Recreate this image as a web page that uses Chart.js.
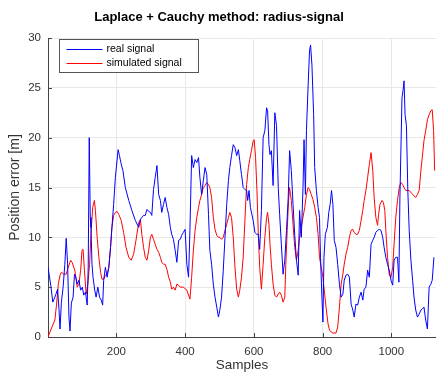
<!DOCTYPE html>
<html>
<head>
<meta charset="utf-8">
<script src="https://cdn.jsdelivr.net/npm/chart.js@4/dist/chart.umd.min.js"></script>
<style>
  html, body { margin: 0; padding: 0; background: #fff; }
  #wrap { width: 436px; height: 372px; }
</style>
</head>
<body>
<div id="wrap"><canvas id="chart" width="436" height="372"></canvas></div>
<script>
const FONT = '"Liberation Sans", Arial, sans-serif';
const titleText = 'Laplace + Cauchy method: radius-signal';
const seriesNames = ['real signal', 'simulated signal'];
const xTicks = [200, 400, 600, 800, 1000];
const yTicks = [0, 5, 10, 15, 20, 25, 30];

// real signal (blue)
const realSamples = [1, 9, 15, 20, 24, 29, 33, 36, 40, 45, 50, 54, 58, 62, 65, 69, 74, 78, 82, 86, 91, 96, 101, 105, 110, 115, 118, 121, 124, 126, 129, 132, 137, 141, 146, 151, 156, 160, 163, 168, 173, 178, 183, 187, 192, 197, 205, 209, 213, 219, 226, 236, 245, 255, 265, 270, 274, 279, 284, 289, 294, 299, 303, 308, 313, 318, 323, 328, 332, 337, 342, 347, 352, 357, 361, 366, 371, 376, 381, 386, 390, 395, 400, 405, 410, 414, 419, 424, 429, 434, 439, 443, 448, 453, 458, 463, 468, 472, 477, 482, 487, 492, 497, 501, 506, 511, 516, 521, 526, 530, 535, 540, 545, 550, 555, 559, 564, 569, 574, 579, 582, 586, 590, 598, 603, 608, 613, 617, 622, 627, 632, 637, 640, 644, 647, 651, 656, 661, 666, 671, 675, 680, 685, 690, 695, 700, 704, 709, 714, 719, 724, 729, 733, 738, 743, 746, 750, 753, 758, 762, 765, 769, 774, 777, 782, 787, 791, 794, 798, 801, 804, 808, 814, 818, 822, 826, 830, 834, 839, 844, 849, 854, 859, 863, 868, 873, 878, 883, 888, 892, 897, 902, 907, 912, 917, 921, 926, 931, 936, 941, 946, 950, 955, 960, 965, 970, 975, 979, 984, 989, 994, 999, 1004, 1008, 1013, 1018, 1022, 1025, 1031, 1034, 1037, 1040, 1044, 1048, 1052, 1057, 1062, 1066, 1071, 1076, 1081, 1086, 1090, 1095, 1100, 1105, 1110, 1115, 1119, 1124];
const realValues = [7.0, 5.2, 3.5, 3.9, 4.3, 4.8, 2.8, 0.8, 3.5, 5.0, 7.3, 9.9, 7.4, 2.0, 0.6, 3.4, 4.0, 6.3, 6.0, 5.3, 5.7, 4.7, 5.0, 4.2, 4.5, 3.2, 7.0, 20.0, 12.0, 11.0, 7.3, 6.0, 4.7, 4.0, 5.0, 4.0, 3.7, 3.2, 5.7, 7.0, 6.0, 7.0, 9.0, 11.0, 13.3, 16.0, 18.8, 18.2, 17.5, 16.7, 15.0, 13.7, 12.7, 11.7, 11.0, 11.8, 12.0, 12.2, 12.2, 12.8, 12.6, 12.5, 12.2, 14.8, 16.0, 17.2, 14.3, 13.7, 12.5, 13.3, 14.0, 13.0, 12.3, 11.0, 10.3, 9.8, 8.7, 7.5, 9.7, 9.8, 10.2, 10.5, 10.8, 7.3, 6.0, 10.7, 18.2, 17.0, 17.8, 17.5, 18.0, 16.0, 14.3, 15.7, 17.0, 16.3, 12.3, 8.7, 7.3, 5.3, 4.0, 3.0, 2.0, 2.7, 4.0, 6.7, 10.0, 13.3, 15.7, 17.0, 18.2, 19.3, 19.0, 18.2, 18.8, 17.7, 16.3, 15.0, 14.8, 14.7, 13.7, 14.7, 13.0, 11.7, 10.5, 10.3, 10.3, 8.8, 12.7, 20.0, 20.7, 23.0, 22.7, 19.3, 18.3, 18.7, 15.2, 22.5, 21.2, 15.0, 12.3, 9.3, 6.3, 7.7, 10.7, 14.0, 18.7, 16.7, 13.3, 10.2, 7.7, 6.2, 12.7, 10.0, 15.0, 19.8, 14.3, 20.7, 25.3, 28.7, 29.3, 27.3, 22.3, 17.0, 14.7, 13.0, 12.0, 8.0, 4.0, 1.5, 8.0, 10.3, 11.0, 12.5, 13.3, 14.7, 13.3, 9.7, 9.0, 7.3, 5.3, 4.0, 4.3, 5.7, 6.2, 6.3, 6.0, 3.3, 2.7, 2.0, 3.3, 3.2, 4.0, 4.5, 3.7, 4.8, 5.0, 6.7, 6.0, 9.3, 9.7, 10.0, 10.5, 10.7, 10.8, 10.7, 10.0, 9.0, 8.0, 7.3, 6.7, 5.7, 5.2, 7.7, 8.0, 8.0, 5.5, 14.0, 24.0, 24.7, 25.7, 22.3, 21.2, 14.7, 10.7, 7.7, 5.7, 4.0, 2.7, 2.0, 2.3, 2.7, 2.8, 3.0, 1.7, 0.8, 5.0, 5.3, 5.7, 8.0];

// simulated signal (red)
const simSamples = [1, 9, 15, 21, 26, 31, 36, 40, 47, 54, 60, 67, 71, 79, 86, 91, 96, 100, 103, 107, 112, 117, 122, 126, 131, 136, 139, 144, 149, 154, 158, 163, 168, 173, 178, 183, 187, 192, 197, 202, 207, 214, 221, 228, 236, 243, 250, 257, 265, 270, 274, 279, 284, 289, 294, 299, 303, 308, 313, 318, 323, 328, 332, 337, 342, 347, 352, 357, 361, 366, 371, 376, 381, 386, 395, 405, 414, 419, 424, 429, 434, 439, 443, 448, 453, 458, 463, 468, 472, 477, 482, 487, 492, 497, 501, 506, 511, 516, 521, 526, 530, 535, 540, 545, 550, 555, 559, 564, 569, 574, 579, 584, 588, 593, 598, 601, 605, 609, 613, 617, 622, 627, 632, 637, 640, 644, 647, 651, 656, 661, 666, 671, 675, 680, 685, 690, 693, 697, 701, 704, 709, 714, 719, 724, 729, 733, 738, 743, 748, 753, 758, 762, 767, 772, 777, 782, 787, 791, 796, 801, 806, 811, 816, 820, 825, 830, 839, 844, 849, 854, 859, 863, 868, 873, 878, 883, 888, 892, 897, 902, 907, 912, 917, 921, 926, 931, 936, 941, 946, 950, 955, 960, 963, 967, 973, 977, 981, 984, 989, 994, 999, 1004, 1008, 1013, 1018, 1023, 1028, 1033, 1037, 1042, 1052, 1062, 1071, 1076, 1081, 1086, 1090, 1095, 1100, 1105, 1110, 1115, 1119, 1123, 1126];
const simValues = [0.0, 0.7, 1.2, 1.7, 3.3, 5.3, 6.2, 6.5, 6.3, 6.3, 7.0, 7.7, 7.5, 6.7, 5.0, 5.3, 6.7, 8.7, 8.8, 6.7, 4.3, 5.3, 7.3, 10.3, 13.0, 13.7, 12.7, 10.0, 8.0, 6.5, 5.8, 5.8, 6.2, 6.3, 7.0, 9.0, 11.0, 12.2, 12.5, 12.6, 12.3, 11.7, 10.5, 9.0, 8.0, 7.7, 8.3, 9.7, 11.5, 11.8, 10.3, 9.0, 8.0, 7.7, 8.7, 10.0, 10.3, 9.8, 9.3, 8.8, 8.5, 8.0, 7.5, 7.3, 7.3, 6.8, 6.0, 5.5, 4.8, 5.0, 4.7, 5.3, 5.2, 5.0, 5.0, 4.7, 3.8, 6.0, 8.7, 10.7, 12.0, 13.0, 13.7, 14.3, 15.0, 15.2, 15.5, 15.3, 15.0, 14.0, 12.0, 10.8, 10.2, 10.0, 10.0, 9.8, 10.0, 10.7, 11.3, 12.0, 12.5, 12.0, 10.0, 7.0, 4.8, 4.0, 4.7, 6.0, 8.0, 11.7, 15.3, 17.0, 17.8, 18.7, 19.7, 19.8, 18.0, 14.7, 10.3, 7.0, 4.8, 7.3, 10.0, 12.0, 12.5, 11.3, 9.3, 7.3, 5.3, 4.2, 4.0, 4.3, 4.5, 4.2, 3.5, 4.0, 7.3, 10.7, 13.7, 15.0, 13.7, 11.3, 9.0, 7.7, 8.7, 10.0, 11.0, 12.0, 13.0, 14.3, 15.0, 14.8, 14.3, 13.8, 13.0, 12.0, 10.3, 8.0, 7.0, 6.0, 4.3, 2.7, 1.3, 0.7, 0.5, 0.4, 0.4, 1.0, 3.0, 5.3, 6.3, 7.3, 8.3, 9.0, 10.0, 10.7, 10.8, 10.5, 10.3, 10.3, 10.7, 11.7, 12.7, 13.7, 14.7, 16.0, 17.3, 18.5, 16.7, 14.0, 12.0, 11.2, 12.3, 13.3, 13.7, 13.5, 12.7, 10.7, 8.0, 6.2, 6.0, 7.0, 9.3, 12.0, 13.7, 15.0, 15.5, 15.3, 15.0, 14.7, 14.7, 14.3, 14.0, 14.3, 14.7, 16.7, 18.0, 19.7, 20.7, 21.8, 22.3, 22.7, 22.8, 20.7, 16.7];

const toPoints = (xs, ys) => xs.map((x, i) => ({ x: x, y: ys[i] }));

// MATLAB-ish extras: inward ticks, title and the boxed legend
const decorations = {
    id: 'decorations',
    afterDraw(chart) {
        const { ctx, chartArea: a, scales: { x, y } } = chart;
        ctx.save();
        ctx.strokeStyle = '#444';
        ctx.lineWidth = 1;
        ctx.beginPath();
        yTicks.forEach(v => {
            const py = Math.round(y.getPixelForValue(v)) + 0.5;
            ctx.moveTo(a.left, py); ctx.lineTo(a.left + 4, py);
        });
        xTicks.forEach(v => {
            const px = Math.round(x.getPixelForValue(v)) + 0.5;
            ctx.moveTo(px, a.bottom); ctx.lineTo(px, a.bottom - 4);
        });
        ctx.stroke();

        ctx.fillStyle = '#000';
        ctx.font = 'bold 13px ' + FONT;
        ctx.textAlign = 'center';
        ctx.textBaseline = 'middle';
        ctx.fillText(titleText, 219, 17);

        // legend box
        const bx = a.left + 11.5, by = a.top + 1.5, bw = 139, bh = 33;
        ctx.fillStyle = '#fff';
        ctx.fillRect(bx, by, bw, bh);
        ctx.strokeStyle = '#555';
        ctx.strokeRect(bx, by, bw, bh);
        const colors = ['#0000ff', '#ff0000'];
        ctx.font = '10.5px ' + FONT;
        ctx.textAlign = 'left';
        seriesNames.forEach((name, i) => {
            const ly = by + 10 + i * 14;
            ctx.strokeStyle = colors[i];
            ctx.beginPath();
            ctx.moveTo(bx + 7, ly); ctx.lineTo(bx + 43, ly);
            ctx.stroke();
            ctx.fillStyle = '#000';
            ctx.fillText(name, bx + 47, ly);
        });
        ctx.restore();
    }
};

new Chart(document.getElementById('chart'), {
    type: 'line',
    data: {
        datasets: [
            { label: seriesNames[0], data: toPoints(realSamples, realValues), borderColor: '#0000ff', borderWidth: 1, pointRadius: 0, tension: 0, fill: false },
            { label: seriesNames[1], data: toPoints(simSamples, simValues), borderColor: '#ff0000', borderWidth: 1, pointRadius: 0, tension: 0, fill: false }
        ]
    },
    options: {
        responsive: false,
        animation: false,
        devicePixelRatio: 1,
        layout: { padding: { top: 38, right: 0, left: 0, bottom: 0 } },
        plugins: { legend: { display: false }, title: { display: false }, tooltip: { enabled: false } },
        scales: {
            x: {
                type: 'linear', min: 1, max: 1130,
                afterBuildTicks: s => { s.ticks = xTicks.map(v => ({ value: v })); },
                afterFit: s => { s.height = 35; },
                grid: { color: '#e8e8e8', drawTicks: false },
                border: { color: '#444', width: 1 },
                ticks: { color: '#333', font: { size: 11.5, family: FONT }, padding: 8, callback: v => String(v) },
                title: { display: true, text: 'Samples', color: '#333', font: { size: 13.5, family: FONT, lineHeight: 1 }, padding: { top: 0, bottom: 0 } }
            },
            y: {
                min: 0, max: 30,
                afterBuildTicks: s => { s.ticks = yTicks.map(v => ({ value: v })); },
                afterFit: s => { s.width = 48; },
                grid: { color: '#e8e8e8', drawTicks: false },
                border: { color: '#444', width: 1 },
                ticks: { color: '#333', font: { size: 11.5, family: FONT }, padding: 7, callback: v => String(v) },
                title: { display: true, text: 'Position error [m]', color: '#333', font: { size: 14, family: FONT, lineHeight: 1 }, padding: { top: 8, bottom: 0 } }
            }
        }
    },
    plugins: [decorations]
});
</script>
</body>
</html>
